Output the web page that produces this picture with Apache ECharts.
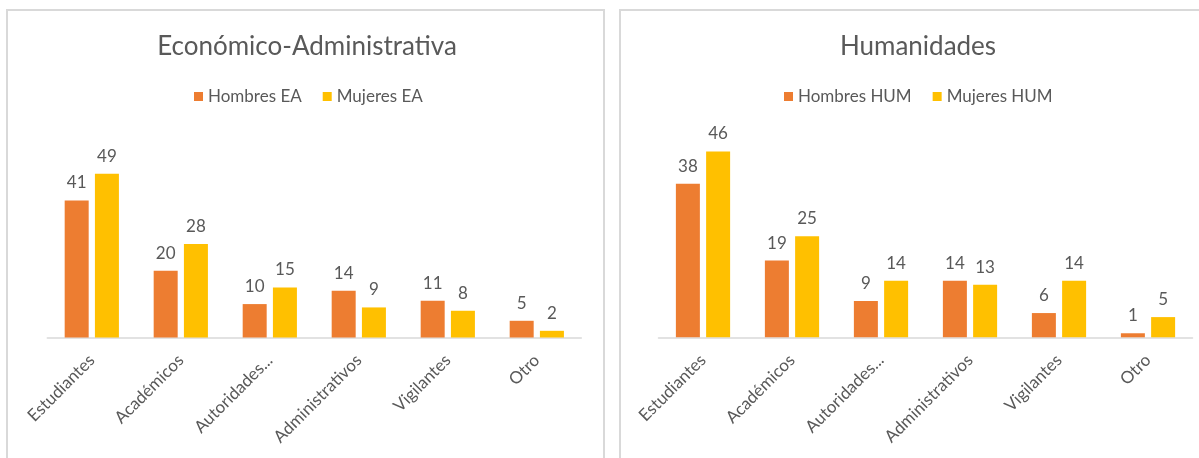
<!DOCTYPE html>
<html>
<head>
<meta charset="utf-8">
<script src="https://cdn.jsdelivr.net/npm/echarts@6/dist/echarts.min.js"></script>
<style>
html,body{margin:0;padding:0;background:#fff;}
#c{width:1199px;height:458px;}
</style>
</head>
<body>
<div id="c"></div>
<script>
const categories = ["Estudiantes","Académicos","Autoridades...","Administrativos","Vigilantes","Otro"];
const hombresEA = [41,20,10,14,11,5];
const mujeresEA = [49,28,15,9,8,2];
const hombresHUM = [38,19,9,14,6,1];
const mujeresHUM = [46,25,14,13,14,5];
const titles = ["Económico-Administrativa","Humanidades"];
const seriesNames = [["Hombres EA","Mujeres EA"],["Hombres HUM","Mujeres HUM"]];

const FONT = "Lato, 'Open Sans', sans-serif";
const TXT = "#595959";
const ORANGE = "#ED7D31";
const YELLOW = "#FFC000";

const chart = echarts.init(document.getElementById('c'), null, {renderer:'canvas'});

function barSeries(name, data, color, idx){
  return {
    name: name, type: 'bar', data: data,
    xAxisIndex: idx, yAxisIndex: idx,
    barWidth: 24, barGap: '26%',
    itemStyle: {color: color},
    label: {show: true, position: 'top', distance: 9, color: TXT, fontSize: 17, fontFamily: FONT},
    emphasis: {disabled: true}
  };
}

const option = {
  animation: false,
  graphic: [
    {type:'rect', shape:{x:7, y:10, width:597, height:470}, style:{fill:'none', stroke:'#d9d9d9', lineWidth:2}},
    {type:'rect', shape:{x:620, y:10, width:600, height:470}, style:{fill:'none', stroke:'#d9d9d9', lineWidth:2}}
  ],
  title: [
    {text: titles[0], left: 302, top: 29, textAlign: 'center', textStyle:{fontFamily: FONT, fontSize: 26, fontWeight: 'normal', color: TXT}},
    {text: titles[1], left: 913, top: 29, textAlign: 'center', textStyle:{fontFamily: FONT, fontSize: 26, fontWeight: 'normal', color: TXT}}
  ],
  legend: [
    {data: seriesNames[0], left: 189, top: 83, itemWidth: 9, itemHeight: 9, itemGap: 21, icon: 'rect',
     textStyle:{fontFamily: FONT, fontSize: 17, color: TXT}},
    {data: seriesNames[1], left: 779, top: 83, itemWidth: 9, itemHeight: 9, itemGap: 21, icon: 'rect',
     textStyle:{fontFamily: FONT, fontSize: 17, color: TXT}}
  ],
  grid: [
    {left: 47.3, width: 534, top: 137, height: 200.5},
    {left: 658.5, width: 534, top: 135.3, height: 202}
  ],
  xAxis: [0,1].map(i => ({
    type: 'category', data: categories, gridIndex: i,
    axisLine: {lineStyle: {color: '#d9d9d9', width: 1.5}},
    axisTick: {show: false},
    axisLabel: {rotate: 45, interval: 0, margin: 20, color: TXT, fontSize: 17, fontFamily: FONT}
  })),
  yAxis: [
    {type: 'value', gridIndex: 0, min: 0, max: 60, show: false, splitLine:{show:false}},
    {type: 'value', gridIndex: 1, min: 0, max: 50, show: false, splitLine:{show:false}}
  ],
  series: [
    barSeries(seriesNames[0][0], hombresEA, ORANGE, 0),
    barSeries(seriesNames[0][1], mujeresEA, YELLOW, 0),
    barSeries(seriesNames[1][0], hombresHUM, ORANGE, 1),
    barSeries(seriesNames[1][1], mujeresHUM, YELLOW, 1)
  ]
};
chart.setOption(option);
</script>
</body>
</html>
